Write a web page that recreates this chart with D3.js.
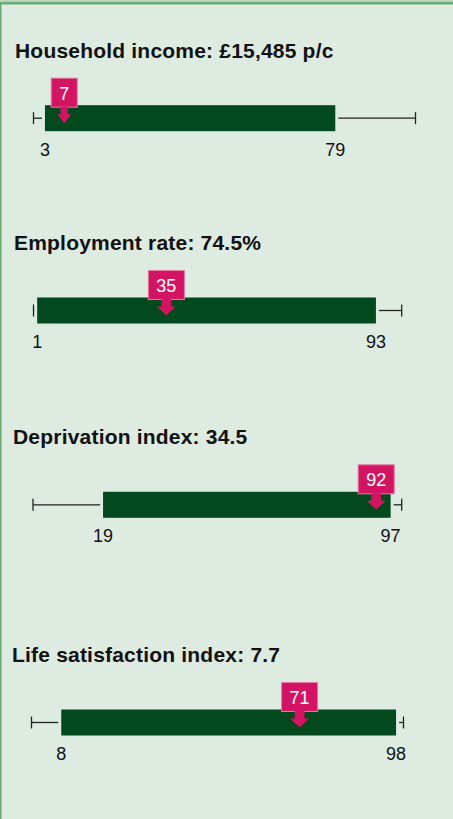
<!DOCTYPE html>
<html>
<head>
<meta charset="utf-8">
<script src="https://cdn.jsdelivr.net/npm/d3@7"></script>
<style>
  html, body { margin: 0; padding: 0; background: #ddebe0; }
  svg { display: block; }
</style>
</head>
<body>
<div id="chart"></div>
<script>
// values (percentile ranks)
const titles = [
  'Household income: £15,485 p/c',
  'Employment rate: 74.5%',
  'Deprivation index: 34.5',
  'Life satisfaction index: 7.7'
];
const lowValues = [3, 1, 19, 8];
const highValues = [79, 93, 97, 98];
const markerValues = [7, 35, 92, 71];
const domain = [0, 100];

// layout
const width = 453, height = 819;
const titleY = [57.7, 250, 444.3, 662];
const titleX = [15, 14, 13, 12];
const xRanges = [[33.5, 415.5], [33.5, 401.7], [33, 401.7], [31.5, 403.5]];
const barH = 26;
const markerShift = 4;

const svg = d3.select('#chart').append('svg')
  .attr('width', width)
  .attr('height', height);

svg.append('rect')
  .attr('width', width).attr('height', height)
  .attr('fill', '#ddebe0');
// top border
svg.append('rect').attr('x', 0).attr('y', 0).attr('width', width).attr('height', 2)
  .attr('fill', '#b9d6bd');
svg.append('rect').attr('x', 0).attr('y', 2).attr('width', width).attr('height', 2.5)
  .attr('fill', '#6aab72');
// left border
svg.append('rect').attr('x', 0).attr('y', 2).attr('width', 1.5).attr('height', height)
  .attr('fill', '#6aab72');

const panels = svg.selectAll('g.panel')
  .data(titles.map((t, i) => ({
    title: t, lo: lowValues[i], hi: highValues[i], mark: markerValues[i], i
  })))
  .enter().append('g')
  .attr('class', 'panel');

panels.each(function (d) {
  const g = d3.select(this);
  const x = d3.scaleLinear().domain(domain).range(xRanges[d.i]);
  const barTop = titleY[d.i] + 47.5;
  const midY = barTop + barH / 2;

  g.append('text')
    .attr('x', titleX[d.i])
    .attr('y', titleY[d.i])
    .attr('font-family', 'Liberation Sans, Arial, sans-serif')
    .attr('font-weight', 'bold')
    .attr('font-size', 21)
    .attr('letter-spacing', 0.2)
    .attr('fill', '#111')
    .text(d.title);

  // whiskers
  const gap = 3;
  const whisk = g.append('g')
    .attr('stroke', '#222')
    .attr('stroke-width', 1.3);
  whisk.append('line')
    .attr('x1', x(domain[0])).attr('x2', x(d.lo) - gap)
    .attr('y1', midY).attr('y2', midY);
  whisk.append('line')
    .attr('x1', x(d.hi) + gap).attr('x2', x(domain[1]))
    .attr('y1', midY).attr('y2', midY);
  domain.forEach(v => {
    whisk.append('line')
      .attr('x1', x(v)).attr('x2', x(v))
      .attr('y1', midY - 6).attr('y2', midY + 6);
  });

  // bar
  g.append('rect')
    .attr('x', x(d.lo))
    .attr('y', barTop)
    .attr('width', x(d.hi) - x(d.lo))
    .attr('height', barH)
    .attr('fill', '#024a1e');

  // end labels
  [d.lo, d.hi].forEach(v => {
    g.append('text')
      .attr('x', x(v))
      .attr('y', barTop + barH + 24.5)
      .attr('text-anchor', 'middle')
      .attr('font-family', 'Liberation Sans, Arial, sans-serif')
      .attr('font-size', 18)
      .attr('fill', '#111')
      .text(v);
  });

  // marker
  const mx = x(d.mark) + markerShift;
  const label = g.append('text')
    .attr('font-family', 'Liberation Sans, Arial, sans-serif')
    .attr('font-size', 18)
    .text(d.mark);
  const tw = label.node().getComputedTextLength();
  const boxW = tw + 16;
  const boxTop = barTop - 27;
  const boxBottom = barTop + 2;
  const headW = Math.round(boxW * 0.52);
  const stemW = headW * 0.52;

  g.insert('rect', 'text:last-child')
    .attr('x', mx - boxW / 2)
    .attr('y', boxTop)
    .attr('width', boxW)
    .attr('height', boxBottom - boxTop)
    .attr('fill', '#d31463')
    .attr('stroke', '#e57aa3')
    .attr('stroke-width', 1);

  g.insert('path', 'text:last-child')
    .attr('d', d3.line()([
      [mx - stemW / 2, boxBottom - 0.5],
      [mx + stemW / 2, boxBottom - 0.5],
      [mx + stemW / 2, barTop + 9],
      [mx + headW / 2, barTop + 9],
      [mx, barTop + 18],
      [mx - headW / 2, barTop + 9],
      [mx - stemW / 2, barTop + 9]
    ]) + 'Z')
    .attr('fill', '#d31463');

  label
    .attr('x', mx)
    .attr('y', boxTop + 21.5)
    .attr('text-anchor', 'middle')
    .attr('fill', '#fff')
    .raise();
});
</script>
</body>
</html>
